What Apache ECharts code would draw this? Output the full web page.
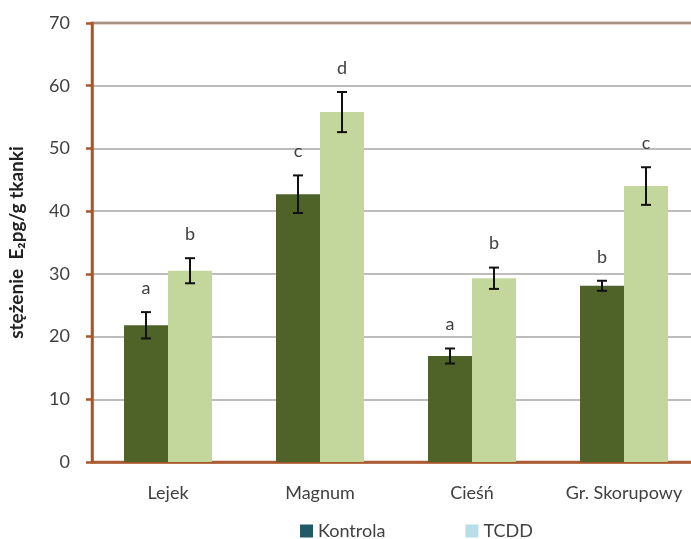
<!DOCTYPE html>
<html>
<head>
<meta charset="utf-8">
<script src="https://cdn.jsdelivr.net/npm/echarts@6/dist/echarts.min.js"></script>
<style>
html, body { margin: 0; padding: 0; background: #fff; }
#chart { width: 691px; height: 539px; }
</style>
</head>
<body>
<div id="chart"></div>
<script>
var categories = ['Lejek', 'Magnum', 'Cieśń', 'Gr. Skorupowy'];
var kontrola = [21.8, 42.7, 16.9, 28.1];
var kontrolaErr = [2.1, 3.0, 1.2, 0.8];
var kontrolaLetters = ['a', 'c', 'a', 'b'];
var tcdd = [30.5, 55.8, 29.3, 44.0];
var tcddErr = [2.0, 3.2, 1.7, 3.0];
var tcddLetters = ['b', 'd', 'b', 'c'];
var yTicks = [0, 10, 20, 30, 40, 50, 60, 70];

var brown = '#a9562b';
var font = 'Lato';
var barW = 44;

function errData(vals, errs, letters) {
    return vals.map(function (v, i) { return [i, v, errs[i], letters[i]]; });
}

function errRender(shift) {
    return function (params, api) {
        var i = api.value(0);
        var v = api.value(1);
        var e = api.value(2);
        var top = api.coord([i, v + e]);
        var bot = api.coord([i, v - e]);
        var x = top[0] + shift;
        var st = { stroke: '#111', lineWidth: 2 };
        return {
            type: 'group',
            children: [
                { type: 'line', shape: { x1: x, y1: top[1], x2: x, y2: bot[1] }, style: st },
                { type: 'line', shape: { x1: x - 5, y1: top[1], x2: x + 5, y2: top[1] }, style: st },
                { type: 'line', shape: { x1: x - 5, y1: bot[1], x2: x + 5, y2: bot[1] }, style: st },
                { type: 'text', x: x, y: top[1] - 24, style: {
                    text: api.value(3), fill: '#404040', font: '18px ' + font,
                    align: 'center', verticalAlign: 'middle' } }
            ]
        };
    };
}

var option = {
    animation: false,
    textStyle: { fontFamily: font },
    grid: {
        left: 92, top: 23, bottom: 77, width: 608,
        outerBoundsMode: 'none',
        show: true, borderColor: brown, borderWidth: 2.5
    },
    legend: {
        left: 295, top: 517,
        itemWidth: 13, itemHeight: 13, itemGap: 80,
        icon: 'rect',
        textStyle: { fontSize: 18, color: '#404040', fontFamily: font },
        data: [
            { name: 'Kontrola', itemStyle: { color: '#215968' } },
            { name: 'TCDD', itemStyle: { color: '#b7dee8' } }
        ]
    },
    xAxis: {
        type: 'category',
        data: categories,
        axisLine: { lineStyle: { color: brown, width: 2.5 } },
        axisTick: { length: 6, lineStyle: { color: '#999' } },
        axisLabel: { margin: 22, fontSize: 18, color: '#404040', fontFamily: font }
    },
    yAxis: {
        type: 'value',
        min: yTicks[0], max: yTicks[yTicks.length - 1], interval: 10,
        name: 'stężenie  E₂pg/g tkanki',
        nameLocation: 'middle',
        nameGap: 66,
        nameTextStyle: { fontSize: 19, fontWeight: 'bold', color: '#222', fontFamily: font },
        axisLine: { show: true, lineStyle: { color: brown, width: 2.5 } },
        axisTick: { show: true, length: 6, lineStyle: { color: brown, width: 2.5 } },
        axisLabel: { margin: 22, fontSize: 18, color: '#404040', fontFamily: font },
        splitLine: { lineStyle: { color: '#a6a6a6', width: 1.5 } }
    },
    series: [
        { name: 'Kontrola', type: 'bar', data: kontrola, barWidth: barW, barGap: '0%',
          itemStyle: { color: '#4f6228' } },
        { name: 'TCDD', type: 'bar', data: tcdd, barWidth: barW, barGap: '0%',
          itemStyle: { color: '#c3d69b' } },
        { type: 'custom', renderItem: errRender(-barW / 2), data: errData(kontrola, kontrolaErr, kontrolaLetters), z: 10 },
        { type: 'custom', renderItem: errRender(barW / 2), data: errData(tcdd, tcddErr, tcddLetters), z: 10 }
    ]
};

var myChart = echarts.init(document.getElementById('chart'));
myChart.setOption(option);
</script>
</body>
</html>
